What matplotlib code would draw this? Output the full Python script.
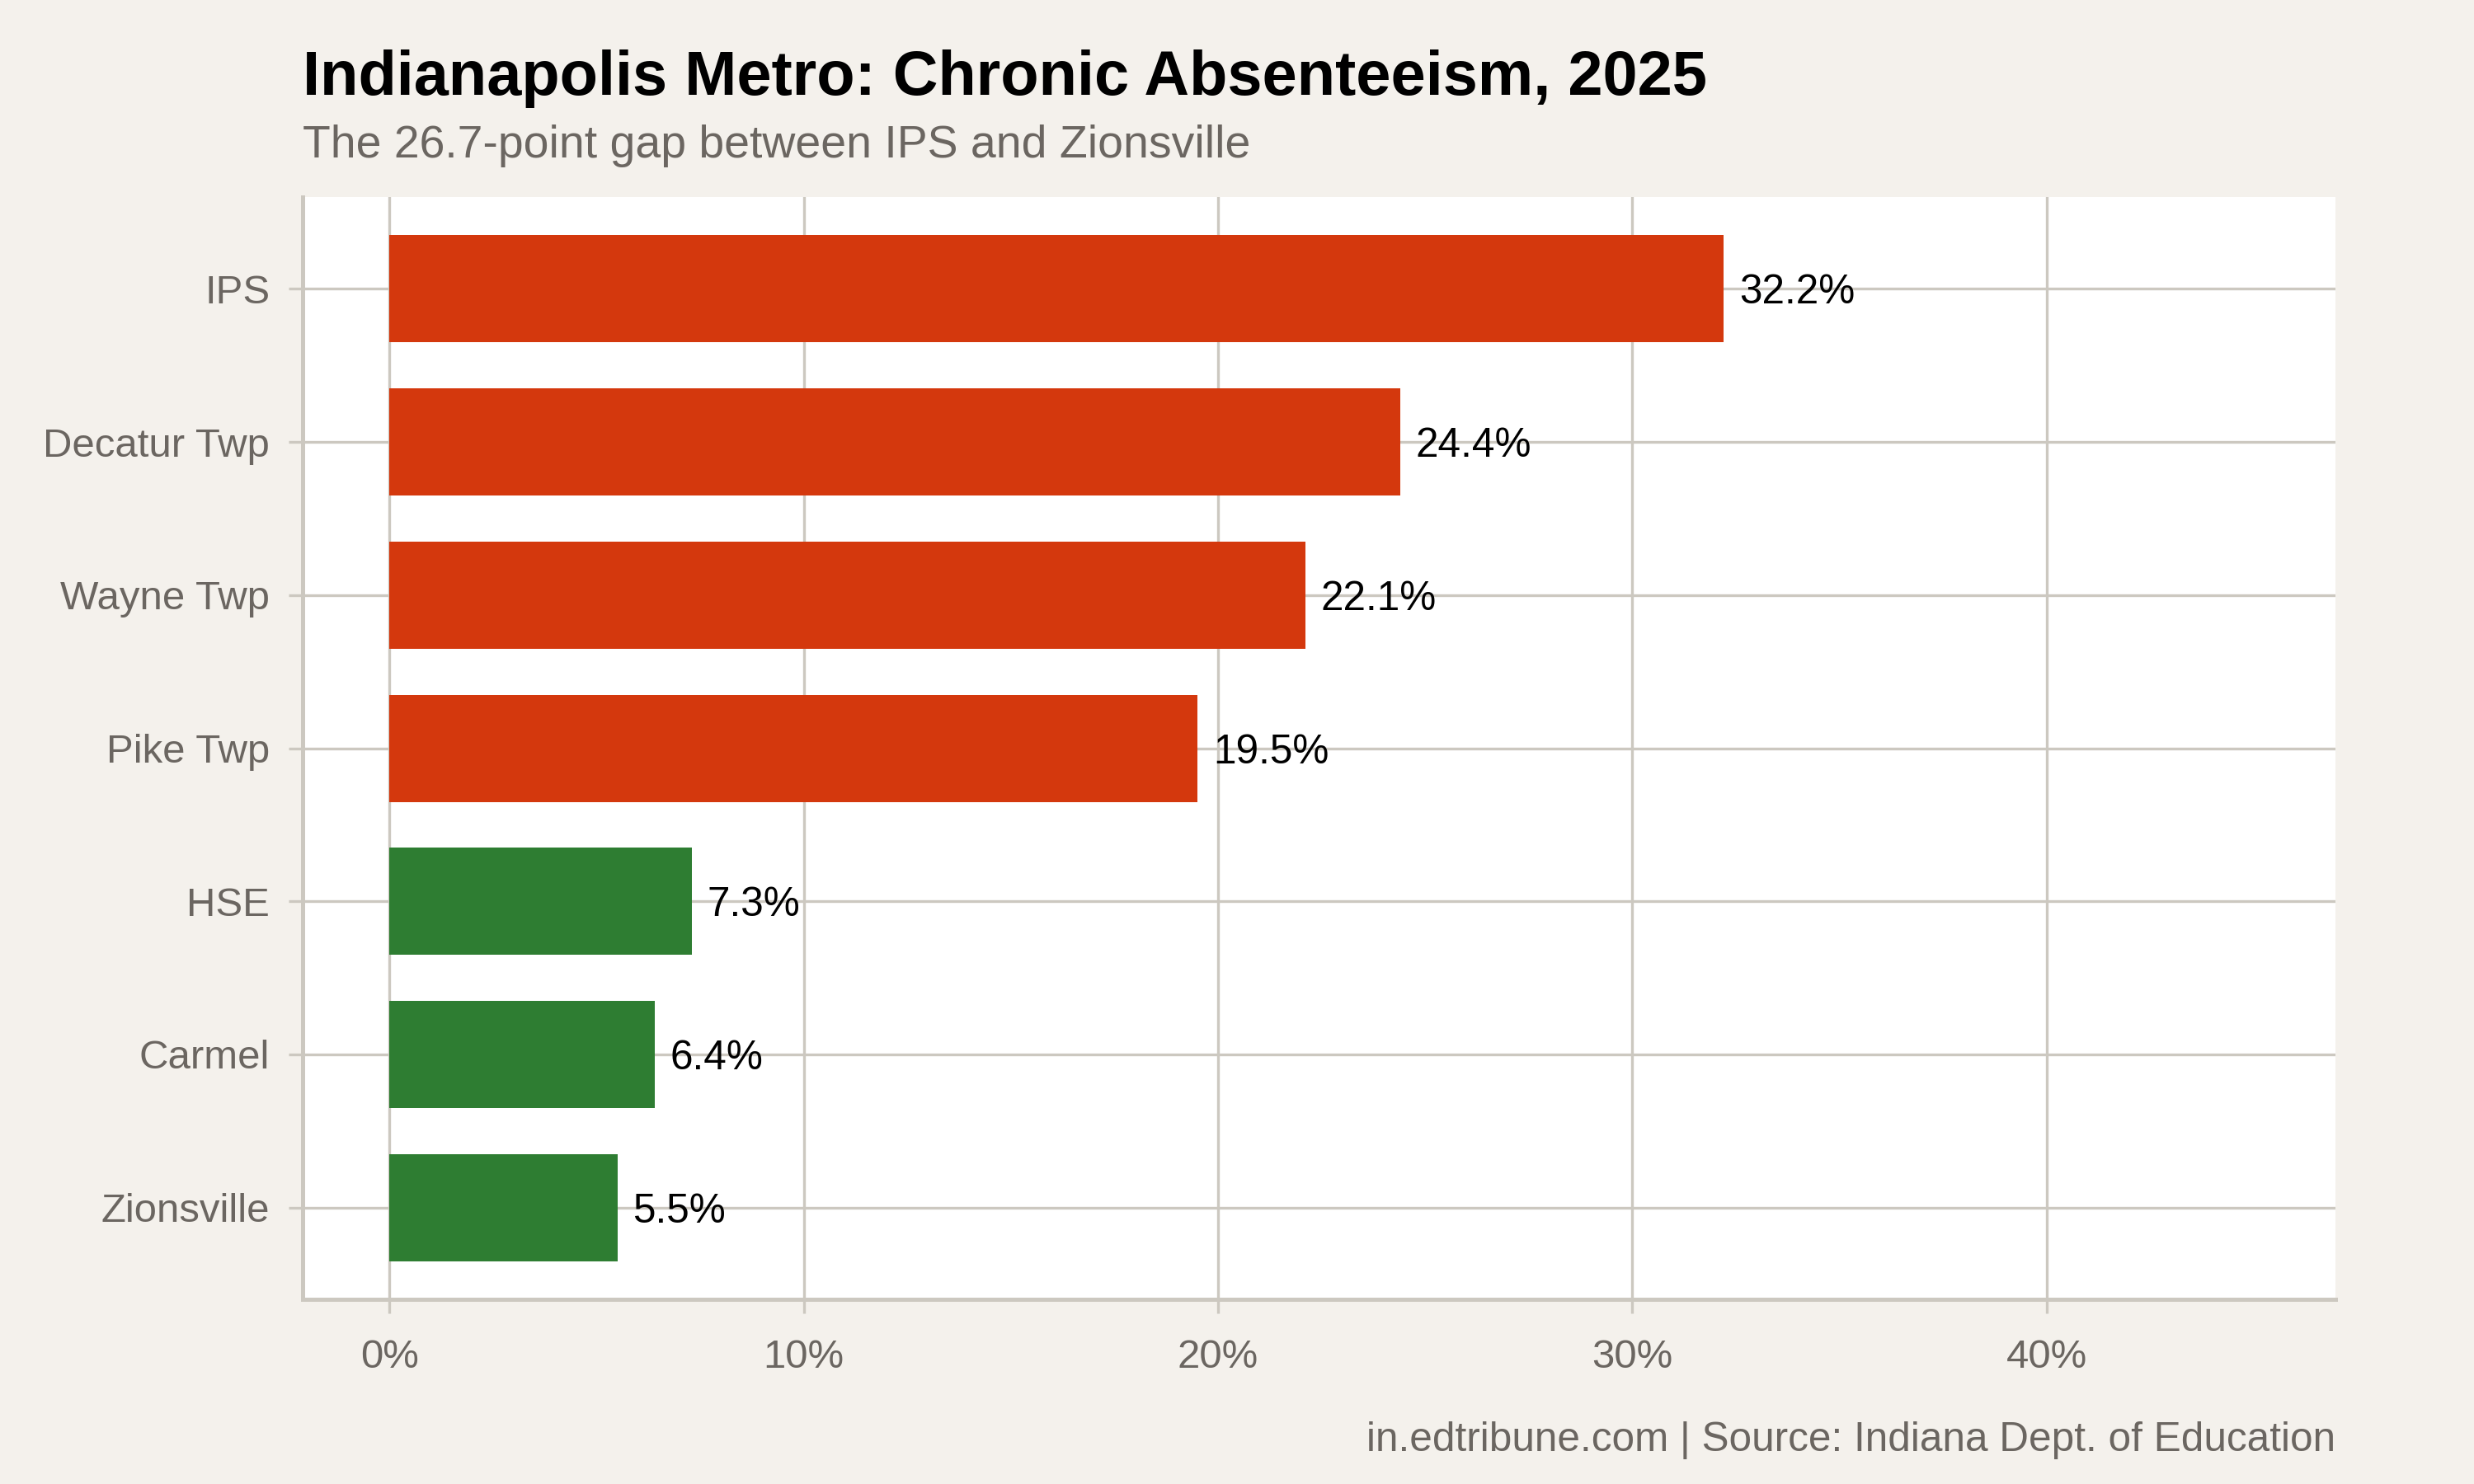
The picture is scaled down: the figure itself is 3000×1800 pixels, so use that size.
import matplotlib
matplotlib.use("Agg")
import matplotlib.pyplot as plt
from matplotlib.ticker import FuncFormatter

districts = ["IPS", "Decatur Twp", "Wayne Twp", "Pike Twp", "HSE", "Carmel", "Zionsville"]
rates = [32.2, 24.4, 22.1, 19.5, 7.3, 6.4, 5.5]
groups = ["high", "high", "high", "high", "low", "low", "low"]
xticks = [0, 10, 20, 30, 40]

colors = {"high": "#D4380D", "low": "#2E7D32"}
bg = "#F4F1EC"
grid_c = "#CCC8C0"
text_gray = "#6B6661"

plt.rcParams["font.family"] = ["Liberation Sans", "DejaVu Sans"]

fig = plt.figure(figsize=(10, 6), dpi=300, facecolor=bg)
ax = fig.add_axes([0.1223, 0.1244, 0.9440 - 0.1223, 0.8672 - 0.1244])
ax.set_facecolor("white")

ypos = list(range(len(districts)))
ax.barh(ypos, rates, height=0.7, color=[colors[g] for g in groups], zorder=3)
for y, v in zip(ypos, rates):
    ax.annotate(f"{v:.1f}%", xy=(v, y), xytext=(4.5, 0), textcoords="offset points",
                va="center_baseline", ha="left", fontsize=11.9, color="black", zorder=4)

ax.set_ylim(len(districts) - 0.4, -0.6)
ax.set_xlim(-2.1, 46.97)
ax.set_yticks(ypos)
ax.set_yticklabels(districts)
ax.set_xticks(xticks)
ax.xaxis.set_major_formatter(FuncFormatter(lambda v, p: f"{v:.0f}%"))

ax.grid(True, color=grid_c, linewidth=0.8, zorder=0)
ax.set_axisbelow(True)
for s in ["top", "right"]:
    ax.spines[s].set_visible(False)
for s in ["left", "bottom"]:
    ax.spines[s].set_color(grid_c)
    ax.spines[s].set_linewidth(1.2)
ax.tick_params(axis="both", colors=grid_c, length=4, width=0.8,
               labelcolor=text_gray)
ax.tick_params(axis="x", pad=7.5, labelsize=11.8)
ax.tick_params(axis="y", pad=5.5, labelsize=11.8)

fig.text(0.1223, 0.936, "Indianapolis Metro: Chronic Absenteeism, 2025",
         fontsize=18.2, fontweight="bold", color="#000000", ha="left", va="baseline")
fig.text(0.1223, 0.894, "The 26.7-point gap between IPS and Zionsville",
         fontsize=13.3, color=text_gray, ha="left", va="baseline")
fig.text(0.9440, 0.022, "in.edtribune.com | Source: Indiana Dept. of Education",
         fontsize=11.9, color=text_gray, ha="right", va="baseline")

fig.savefig("out.png", dpi=300, facecolor=bg)
